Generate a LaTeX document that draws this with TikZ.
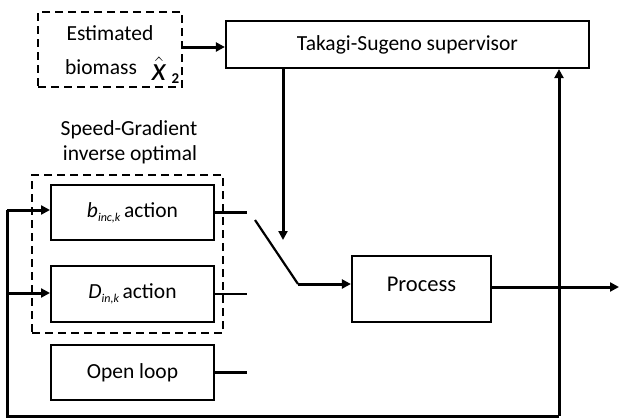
\documentclass[tikz,border=0pt]{standalone}
\usepackage{fontspec}
\setmainfont{Carlito}
\usetikzlibrary{arrows.meta}
\newcommand{\subtxt}[1]{\raisebox{-4pt}{\fontsize{12}{12}\selectfont\itshape #1}}
\begin{document}
\begin{tikzpicture}[x=1pt,y=-1pt,
  txt/.style={font=\fontsize{21.5}{25}\selectfont, inner sep=0pt},
  blockbox/.style={draw, line width=2pt, minimum width=163pt, minimum height=55pt, inner sep=0pt},
  dashbox/.style={draw, line width=2.4pt, dash pattern=on 8pt off 5pt},
  wire/.style={line width=3pt},
  stub/.style={line width=2.2pt},
  arr/.style={wire, -{Triangle[length=9pt,width=9pt]}}
]
\useasboundingbox (0,0) rectangle (619,418);

% estimated biomass block
\node[dashbox, minimum width=144pt, minimum height=75pt, inner sep=0pt] (est) at (110,49.5) {};
\node[txt] (estA) at (110,33) {Estimated};
\node[txt, anchor=west] (estB) at (65,67) {biomass};
\node[inner sep=0pt, font=\fontsize{22}{22}\selectfont] (estX) at (159,69) {\scalebox{1.5}{$\hat{\mathit{x}}$}};
\node[inner sep=0pt, font=\fontsize{15}{15}\selectfont\bfseries] (estS) at (175.5,79) {2};

% supervisor
\node[draw, line width=2.2pt, minimum width=363pt, minimum height=47pt, inner sep=0pt, txt] (ts) at (407.5,44.5) {Takagi-Sugeno supervisor};

% controller group
\node[dashbox, minimum width=191pt, minimum height=158pt, inner sep=0pt] (sg) at (127.5,254) {};
\node[txt] (sgA) at (129,130) {Speed-Gradient};
\node[txt] (sgB) at (130,155) {inverse optimal};

\node[blockbox, txt] (bact) at (132.5,212.5) {{\itshape b}\subtxt{inc,k}\,action};
\node[blockbox, txt, minimum height=56pt] (dact) at (132.5,294) {{\itshape D}\subtxt{in,k}\,action};
\node[blockbox, txt] (ol) at (132.5,372.5) {Open loop};

% plant
\node[draw, line width=2.2pt, minimum width=139pt, minimum height=66pt, inner sep=0pt] (proc) at (421.5,289) {};
\node[txt, font=\fontsize{22.5}{25}\selectfont] (procT) at (421.5,284) {Process};

% switch contacts
\coordinate (sbE) at (247,212.5);
\coordinate (sdE) at (247,294);
\coordinate (soE) at (247,372.5);
\coordinate (swA) at (255,220);
\coordinate (swB) at (298,284);
\coordinate (swTip) at (283,240);
\coordinate (tsOut) at (283,68);

\draw[stub] (bact.east) -- (sbE);
\draw[stub] (dact.east |- sdE) -- (sdE);
\draw[stub] (ol.east) -- (soE);
\draw[stub] (swA) -- (swB);
\draw[arr] (swB) -- (proc.west |- swB);
\draw[arr] (tsOut) -- (swTip);

% estimate to supervisor
\draw[arr] (est.east |- 0,47) -- (ts.west |- 0,47);

% output and feedback
\coordinate (out) at (619,287);
\coordinate (fbR) at (559,416);
\coordinate (fbL) at (7,416);
\coordinate (fbB) at (7,210);
\coordinate (fbD) at (7,293);
\draw[arr] (proc.east |- out) -- (out);
\draw[arr] (fbR) -- (fbR |- ts.south);
\draw[wire] (fbR) -- (fbL) -- (fbB);
\draw[arr] (fbB) -- (bact.west |- fbB);
\draw[arr] (fbD) -- (dact.west |- fbD);
\end{tikzpicture}
\end{document}
